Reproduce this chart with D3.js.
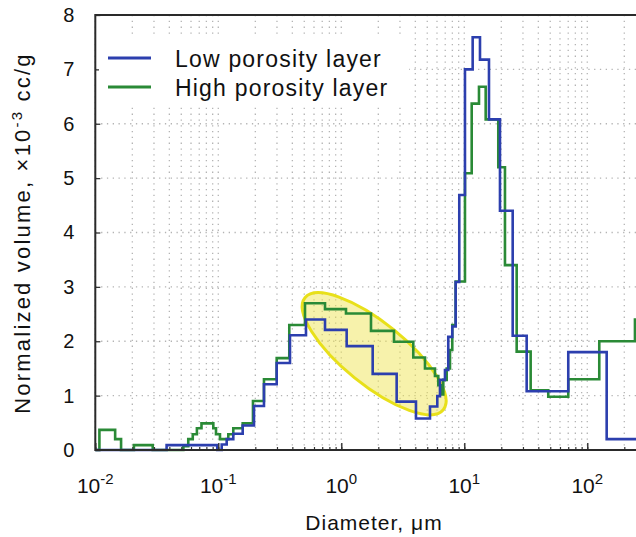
<!DOCTYPE html>
<html>
<head>
<meta charset="utf-8">
<script src="https://cdn.jsdelivr.net/npm/d3@7"></script>
<style>
  body { margin: 0; background: #fff; }
  svg { display: block; font-family: "Liberation Sans", Arial, Helvetica, sans-serif; }
</style>
</head>
<body>
<script>
// bin edges (diameter, um) and normalized volume (x10^-3 cc/g) for each layer
var highEdges = [0.01, 0.0108, 0.0145, 0.0162, 0.0206, 0.0293, 0.052, 0.057, 0.062, 0.067,
    0.073, 0.0911, 0.0958, 0.1032, 0.1206, 0.1324, 0.1579, 0.1914, 0.2352, 0.2984,
    0.3777, 0.5069, 0.7373, 1.092, 1.744, 2.683, 3.849, 4.792, 5.778, 6.145,
    6.551, 6.75, 7.193, 7.651, 7.988, 8.511, 10.13, 11.49, 13.17, 14.93,
    18.9, 21.42, 26.67, 34.65, 48.18, 70.07, 125.2, 244.2, 249];
var highVolume = [0, 0.37, 0.2, 0, 0.09, 0, 0.07, 0.2, 0.29, 0.4,
    0.49, 0.4, 0.29, 0.2, 0.29, 0.4, 0.49, 0.9, 1.3, 1.69,
    2.3, 2.7, 2.59, 2.51, 2.19, 1.99, 1.7, 1.5, 1.36, 1.19,
    1.02, 1.29, 1.5, 1.84, 2.3, 3.1, 5.09, 6.37, 6.68, 6.08,
    5.2, 3.4, 1.81, 1.1, 0.98, 1.3, 2.0, 2.4];

var lowEdges = [0.01, 0.038, 0.0981, 0.1066, 0.117, 0.1324, 0.1579, 0.1951, 0.2352, 0.2984,
    0.3827, 0.5164, 0.7373, 1.106, 1.8, 2.82, 4.048, 5.262, 6.033, 6.345,
    6.968, 7.41, 7.988, 8.511, 9.106, 10.13, 11.7, 13.42, 15.88, 19.51,
    24.75, 32.16, 70.07, 143.8, 249];
var lowVolume = [0, 0.09, 0, 0.1, 0.2, 0.3, 0.45, 0.81, 1.21, 1.6,
    2.11, 2.4, 2.21, 1.91, 1.4, 0.89, 0.58, 0.8, 0.99, 1.29,
    1.47, 2.08, 2.27, 3.09, 4.69, 7.0, 7.59, 7.18, 6.08, 4.4,
    2.1, 1.08, 1.8, 0.2];

var decades = [-2, -1, 0, 1, 2];
var yTicks = [0, 1, 2, 3, 4, 5, 6, 7, 8];
var seriesNames = ["Low porosity layer", "High porosity layer"];
var seriesColors = ["#2c3fae", "#2a8a36"];

var svgWidth = 636;
var svgHeight = 537;
var plotLeft = 95.3, plotTop = 15, plotBottom = 450;

var svg = d3.select("body")
    .append("svg")
    .attr("width", svgWidth)
    .attr("height", svgHeight);

var x = d3.scaleLog().domain([0.01, 249]).range([plotLeft, svgWidth]);
var y = d3.scaleLinear().domain([0, 8]).range([plotBottom, plotTop]);

// minor + decade positions for grid and ticks
var minorVals = [];
decades.forEach(function(d) {
    for (var k = 1; k <= 9; k++) {
        var v = k * Math.pow(10, d);
        if (v >= 0.01 && v <= 249) minorVals.push(v);
    }
});

// grid
var grid = svg.append("g").attr("stroke", "#b4b4b4").attr("stroke-width", 1.3)
    .attr("stroke-dasharray", "1.3,4.5");
grid.selectAll(".vg").data(minorVals).enter().append("line")
    .attr("x1", d => x(d)).attr("x2", d => x(d))
    .attr("y1", plotTop).attr("y2", plotBottom);
grid.selectAll(".hg").data(yTicks.slice(1, -1)).enter().append("line")
    .attr("x1", plotLeft).attr("x2", svgWidth)
    .attr("y1", d => y(d)).attr("y2", d => y(d));

// highlighted region
var ellipseCenter = [1.85, 1.77];
svg.append("ellipse")
    .attr("transform", "translate(" + x(ellipseCenter[0]) + "," + y(ellipseCenter[1]) + ") rotate(39)")
    .attr("rx", 89)
    .attr("ry", 31)
    .attr("fill", "rgba(238,228,80,0.48)")
    .attr("stroke", "#e8e01a")
    .attr("stroke-width", 3);

// step lines
function stepPoints(edges, vals) {
    var pts = vals.map(function(v, i) { return [edges[i], v]; });
    pts.push([edges[edges.length - 1], vals[vals.length - 1]]);
    return pts;
}
var line = d3.line()
    .x(d => x(d[0]))
    .y(d => y(d[1]))
    .curve(d3.curveStepAfter);

svg.append("path")
    .datum(stepPoints(highEdges, highVolume))
    .attr("d", line)
    .attr("fill", "none")
    .attr("stroke", seriesColors[1])
    .attr("stroke-width", 2.6);

svg.append("path")
    .datum(stepPoints(lowEdges, lowVolume))
    .attr("d", line)
    .attr("fill", "none")
    .attr("stroke", seriesColors[0])
    .attr("stroke-width", 2.6);

// axes
var yAxis = svg.append("g")
    .attr("transform", "translate(" + plotLeft + ",0)")
    .call(d3.axisLeft(y).tickValues(yTicks).tickSize(-5).tickPadding(21).tickFormat(d3.format("d")));
yAxis.select(".domain").remove();
yAxis.selectAll("line").attr("stroke", "#333").attr("stroke-width", 1.3);
yAxis.selectAll("text").attr("font-size", 20).attr("fill", "#111")
    .attr("font-family", "Liberation Sans, Arial, sans-serif");

var xMinor = svg.append("g")
    .attr("transform", "translate(0," + plotBottom + ")")
    .call(d3.axisBottom(x).tickValues(minorVals).tickSize(-3).tickFormat(""));
xMinor.select(".domain").remove();
xMinor.selectAll("line").attr("stroke", "#333").attr("stroke-width", 1.2);

var xMajor = svg.append("g")
    .attr("transform", "translate(0," + plotBottom + ")")
    .call(d3.axisBottom(x).tickValues(decades.map(d => Math.pow(10, d))).tickSize(-7).tickFormat(""));
xMajor.select(".domain").remove();
xMajor.selectAll("line").attr("stroke", "#333").attr("stroke-width", 1.4);

// frame
svg.append("path")
    .attr("d", "M" + svgWidth + "," + plotTop + "H" + plotLeft + "V" + plotBottom + "H" + svgWidth)
    .attr("fill", "none")
    .attr("stroke", "#2a2a2a")
    .attr("stroke-width", 2);

// decade labels
var xl = svg.selectAll(".xlab").data(decades).enter().append("text")
    .attr("class", "xlab")
    .attr("x", d => x(Math.pow(10, d)))
    .attr("y", 493)
    .attr("text-anchor", "middle")
    .attr("font-size", 21)
    .attr("fill", "#111");
xl.append("tspan").text("10");
xl.append("tspan").attr("dy", -9).attr("font-size", 15)
    .text(d => d < 0 ? "-" + (-d) : String(d));

// axis titles
svg.append("text")
    .attr("x", 374)
    .attr("y", 530)
    .attr("text-anchor", "middle")
    .attr("font-size", 21)
    .attr("letter-spacing", 1)
    .attr("fill", "#111")
    .text("Diameter, \u03bcm");

var yt = svg.append("text")
    .attr("transform", "translate(30,233) rotate(-90)")
    .attr("text-anchor", "middle")
    .attr("font-size", 22)
    .attr("letter-spacing", 2.2)
    .attr("fill", "#111");
yt.append("tspan").text("Normalized volume, \u00d710");
yt.append("tspan").attr("dy", -8).attr("font-size", 15).text("-3");
yt.append("tspan").attr("dy", 8).text(" cc/g");

// legend
var legend = svg.append("g");
legend.append("rect")
    .attr("x", 99).attr("y", 36).attr("width", 310).attr("height", 70)
    .attr("fill", "#fff");
var legY = [58, 87];
seriesNames.forEach(function(name, i) {
    legend.append("line")
        .attr("x1", 108).attr("x2", 151)
        .attr("y1", legY[i]).attr("y2", legY[i])
        .attr("stroke", seriesColors[i])
        .attr("stroke-width", 3);
    legend.append("text")
        .attr("x", 175)
        .attr("y", legY[i] + 8.5)
        .attr("font-size", 23)
        .attr("letter-spacing", 1.2)
        .attr("fill", "#111")
        .text(name);
});
</script>
</body>
</html>
